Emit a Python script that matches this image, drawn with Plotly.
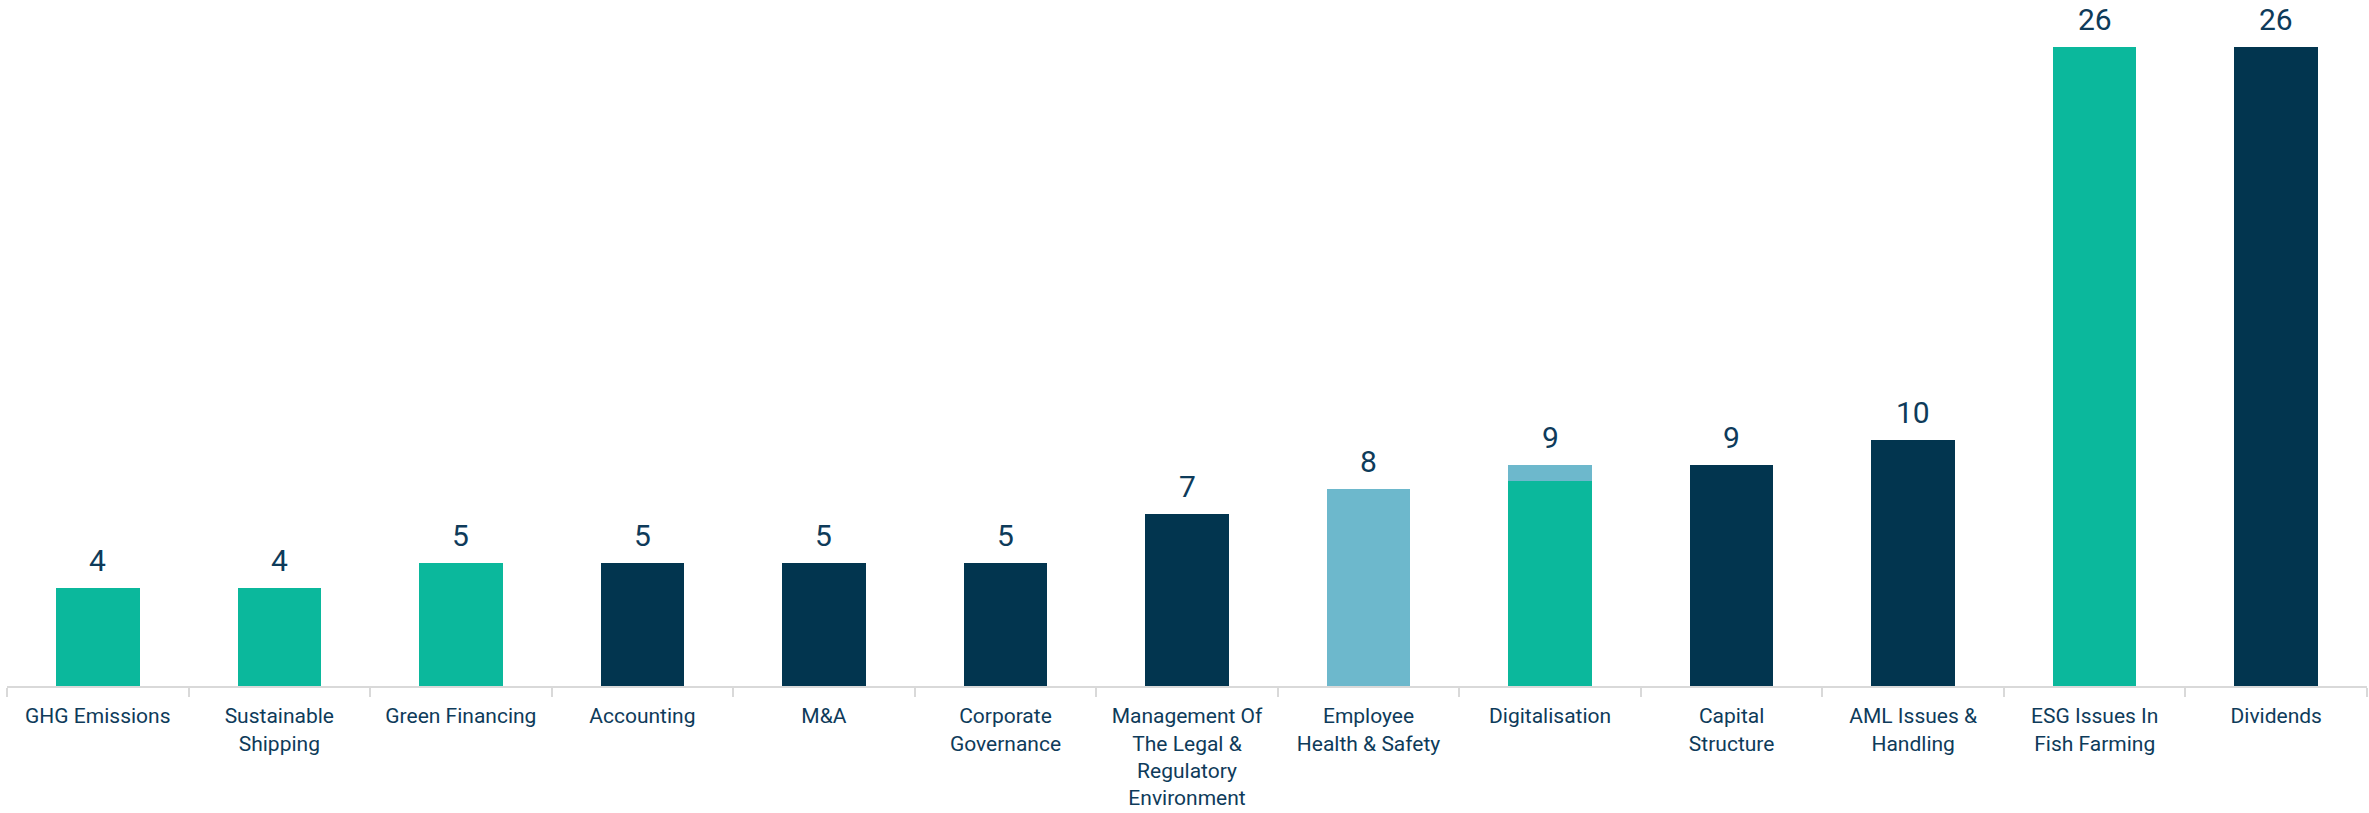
import plotly.graph_objects as go

categories = [
    "GHG Emissions", "Sustainable<br>Shipping", "Green Financing", "Accounting", "M&A",
    "Corporate<br>Governance", "Management Of<br>The Legal &<br>Regulatory<br>Environment",
    "Employee<br>Health & Safety", "Digitalisation", "Capital<br>Structure",
    "AML Issues &<br>Handling", "ESG Issues In<br>Fish Farming", "Dividends",
]
environmental = [4, 4, 5, 0, 0, 0, 0, 0, 8.33, 0, 0, 26, 0]
governance = [0, 0, 0, 5, 5, 5, 7, 0, 0, 9, 10, 0, 26]
social = [0, 0, 0, 0, 0, 0, 0, 8, 0.67, 0, 0, 0, 0]
totals = [round(a + b + c) for a, b, c in zip(environmental, governance, social)]

TEAL = "#0BB89C"
NAVY = "#02354F"
LIGHT = "#6DB8CC"
TEXT = "#0E3B5A"

fig = go.Figure()
fig.add_trace(go.Bar(x=categories, y=environmental, name="Environmental", marker_color=TEAL, marker_line_width=0))
fig.add_trace(go.Bar(x=categories, y=governance, name="Governance", marker_color=NAVY, marker_line_width=0))
fig.add_trace(go.Bar(x=categories, y=social, name="Social", marker_color=LIGHT, marker_line_width=0))

for c, t in zip(categories, totals):
    fig.add_annotation(x=c, y=t, text=str(t), showarrow=False, yanchor="bottom", yshift=8,
                       font=dict(family="Roboto, sans-serif", size=30, color=TEXT))

fig.update_layout(
    width=2369, height=813,
    barmode="stack", bargap=0.54,
    showlegend=False,
    plot_bgcolor="white", paper_bgcolor="white",
    margin=dict(l=7, r=2, t=0, b=127, autoexpand=False),
)
fig.update_xaxes(
    automargin=False,
    showline=True, linecolor="#d9d9d9", linewidth=2,
    ticks="outside", tickson="boundaries", ticklen=9, tickwidth=2, tickcolor="#d9d9d9",
    tickfont=dict(family="Roboto, sans-serif", size=21, color=TEXT),
    ticklabelstandoff=10,
    tickangle=0, showgrid=False,
)
fig.update_yaxes(range=[0, 27.9], visible=False, showgrid=False, automargin=False)

fig.write_html("out.html", config={"displayModeBar": False},
               post_script="document.body.style.margin='0';document.body.style.overflow='hidden';")
